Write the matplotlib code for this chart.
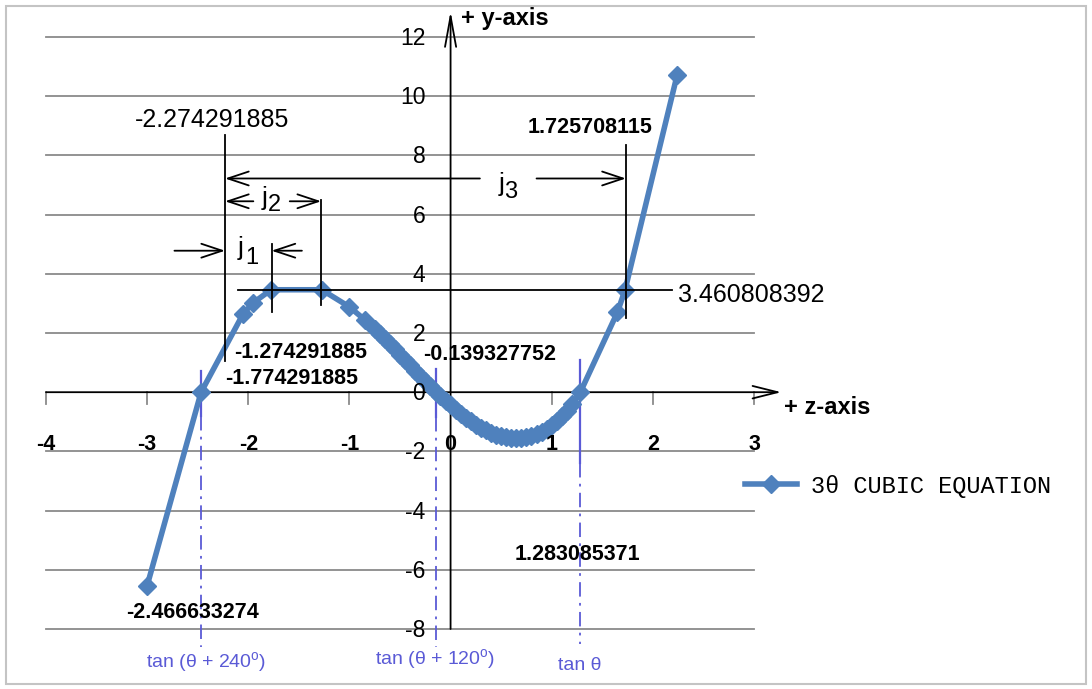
import matplotlib
matplotlib.use('Agg')
import matplotlib.pyplot as plt
from matplotlib.patches import Rectangle

plt.rcParams['font.family'] = ['Liberation Sans', 'DejaVu Sans']
plt.rcParams['mathtext.fontset'] = 'custom'
plt.rcParams['mathtext.rm'] = 'Liberation Sans'

# ---------------- data ----------------
series_name = '3θ CUBIC EQUATION'
z_vals = [-3.0, -2.466633274, -2.05, -1.95, -1.774291885, -1.274291885, -1.0, -0.85,
          -0.75, -0.70, -0.65, -0.60, -0.55, -0.50, -0.45, -0.40, -0.35, -0.30, -0.25,
          -0.20, -0.15, -0.10, -0.05,
          0.0, 0.05, 0.10, 0.15, 0.20, 0.25, 0.30, 0.35, 0.40, 0.45, 0.50, 0.55, 0.60,
          0.65, 0.70, 0.75, 0.80,
          0.85, 0.90, 0.95, 1.00, 1.05, 1.10, 1.15, 1.20,
          1.283085371, 1.65, 1.725708115, 2.24]
y_vals = [-6.535, 0.0, 2.653, 3.024, 3.461, 3.461, 2.882, 2.451,
          2.131, 1.964, 1.793, 1.619, 1.443, 1.265, 1.086, 0.907, 0.728, 0.551, 0.376,
          0.204, 0.035, -0.129, -0.288,
          -0.441, -0.588, -0.727, -0.858, -0.980, -1.093, -1.195, -1.286, -1.365, -1.432,
          -1.485, -1.524, -1.549, -1.557, -1.550, -1.525, -1.482,
          -1.421, -1.340, -1.240, -1.118, -0.975, -0.809, -0.621, -0.408,
          0.0, 2.703, 3.461, 10.716]

x_ticks = [-4, -3, -2, -1, 0, 1, 2, 3]
y_ticks = [-8, -6, -4, -2, 0, 2, 4, 6, 8, 10, 12]

roots = [-2.466633274, -0.139327752, 1.283085371]
root_labels = ['tan (θ + 240$^{\\mathregular{o}}$)', 'tan (θ + 120$^{\\mathregular{o}}$)', 'tan θ']
level_value = 3.460808392
value_labels = ['-2.274291885', '1.725708115', '3.460808392', '-1.274291885',
                '-1.774291885', '-0.139327752', '-2.466633274', '1.283085371']

# ---------------- figure ----------------
W, H = 1092, 689
fig = plt.figure(figsize=(W / 100, H / 100), dpi=100)
ax = fig.add_axes([46 / W, 60 / H, 708 / W, 592 / H])
ax.set_xlim(-4, 3)
ax.set_ylim(-8, 12)
ax.axis('off')

grid_c = '#8a8a8a'
blue_c = '#5a5ad6'

# gridlines
for yv in y_ticks:
    if yv != 0:
        ax.plot([-4, 3], [yv, yv], color=grid_c, lw=1.3, zorder=1, clip_on=False)

# z axis with arrow
ax.annotate('', xy=(3.27, 0), xytext=(-4, 0), annotation_clip=False,
            arrowprops=dict(arrowstyle='->,head_length=1.8,head_width=0.45',
                            color='black', lw=1.3, shrinkA=0, shrinkB=0), zorder=3)
for xv in x_ticks:
    if xv != 0:
        ax.plot([xv, xv], [0, -0.4], color=grid_c, lw=1.3, zorder=2, clip_on=False)
    ax.text(xv, -1.76, str(xv), ha='center', va='center', fontsize=15.5,
            fontweight='bold', zorder=6)

# y axis with arrow
ax.annotate('', xy=(0, 12.87), xytext=(0, -8), annotation_clip=False,
            arrowprops=dict(arrowstyle='->,head_length=2.2,head_width=0.4',
                            color='black', lw=1.3, shrinkA=0, shrinkB=0), zorder=3)
for yv in y_ticks:
    ax.text(-0.25, yv - 0.05, str(yv), ha='right', va='center', fontsize=16.5, zorder=6)

ax.text(0.1, 12.62, '+ y-axis', ha='left', va='center', fontsize=17, fontweight='bold')
ax.text(3.30, -0.5, '+ z-axis', ha='left', va='center', fontsize=17, fontweight='bold')

# root lines (blue dash-dot)
tan_tops = [0.72, 0.8, 1.1]
tan_solid = [-0.8, -0.85, -2.4]
tan_bottom = [-8.6, -8.6, -8.5]
tan_lab_x = [-2.42, -0.155, 1.28]
tan_lab_y = [-9.12, -9.05, -9.22]
for i, r in enumerate(roots):
    ax.plot([r, r], [tan_tops[i], tan_solid[i]], color=blue_c, lw=1.6, zorder=4, clip_on=False)
    ax.plot([r, r], [tan_solid[i], tan_bottom[i]], color=blue_c, lw=1.3, zorder=4,
            linestyle=(0, (8, 3.5, 1.5, 3.5)), clip_on=False)
    ax.text(tan_lab_x[i], tan_lab_y[i], root_labels[i], color=blue_c, fontsize=14,
            ha='center', va='center', clip_on=False)

# curve
ax.plot(z_vals, y_vals, color='#4f81bd', lw=4, marker='D', ms=9, zorder=5,
        clip_on=False, label=series_name)

# annotation lines
black_lw = 1.3
ax.plot([-2.23, -2.23], [1.05, 8.7], color='black', lw=black_lw, zorder=6)
ax.plot([-1.77, -1.77], [2.7, 5.0], color='black', lw=black_lw, zorder=6)
ax.plot([-1.28, -1.28], [2.95, 6.48], color='black', lw=black_lw, zorder=6)
ax.plot([1.733, 1.733], [2.5, 8.35], color='black', lw=black_lw, zorder=6)
ax.plot([-2.1, 2.19], [level_value - 0.02, level_value - 0.02], color='black', lw=black_lw, zorder=6)


def dim_arrow(x_from, x_to, yv):
    ax.annotate('', xy=(x_to, yv), xytext=(x_from, yv), annotation_clip=False,
                arrowprops=dict(arrowstyle='->,head_length=1.5,head_width=0.5',
                                color='black', lw=black_lw, shrinkA=0, shrinkB=0), zorder=6)


dim_arrow(0.29, -2.23, 7.22)
dim_arrow(0.85, 1.733, 7.22)
dim_arrow(-1.95, -2.23, 6.45)
dim_arrow(-1.59, -1.28, 6.45)
dim_arrow(-2.73, -2.23, 4.78)
dim_arrow(-1.47, -1.77, 4.78)

# j labels
ax.text(0.50, 7.03, 'j', fontsize=19, ha='center', va='center', zorder=7)
ax.text(0.59, 6.78, '3', fontsize=17, ha='center', va='center', zorder=7)
ax.text(-1.84, 6.57, 'j', fontsize=19, ha='center', va='center', zorder=7)
ax.text(-1.74, 6.32, '2', fontsize=17, ha='center', va='center', zorder=7)
ax.text(-2.08, 4.88, 'j', fontsize=19, ha='center', va='center', zorder=7)
ax.text(-1.97, 4.55, '1', fontsize=17, ha='center', va='center', zorder=7)

# value labels
ax.text(-2.355, 9.2, value_labels[0], ha='center', va='center', fontsize=18, zorder=7)
ax.text(1.38, 8.93, value_labels[1], ha='center', va='center', fontsize=15.5, fontweight='bold', zorder=7)
ax.text(2.25, 3.3, value_labels[2], ha='left', va='center', fontsize=18, zorder=7)
ax.text(-2.14, 1.33, value_labels[3], ha='left', va='center', fontsize=15.5, fontweight='bold', zorder=7)
ax.text(-2.23, 0.46, value_labels[4], ha='left', va='center', fontsize=15.5, fontweight='bold', zorder=7)
ax.text(-0.267, 1.28, value_labels[5], ha='left', va='center', fontsize=15.5, fontweight='bold', zorder=7)
ax.text(-2.55, -7.45, value_labels[6], ha='center', va='center', fontsize=15.5, fontweight='bold', zorder=7)
ax.text(1.25, -5.47, value_labels[7], ha='center', va='center', fontsize=15.5, fontweight='bold', zorder=7)

# legend
ax.legend(loc='center left', bbox_to_anchor=(745 / W, (H - 486) / H),
          bbox_transform=fig.transFigure, frameon=False,
          prop={'family': ['Liberation Mono', 'DejaVu Sans Mono'], 'size': 17},
          handlelength=2.2, handletextpad=0.6, borderpad=0, borderaxespad=0)

# outer frame
fig.patches.append(Rectangle((6 / W, 5 / H), 1080 / W, 678 / H, transform=fig.transFigure,
                             fill=False, edgecolor='#c4c4c4', lw=1.5))

fig.savefig('out.png', dpi=100)
